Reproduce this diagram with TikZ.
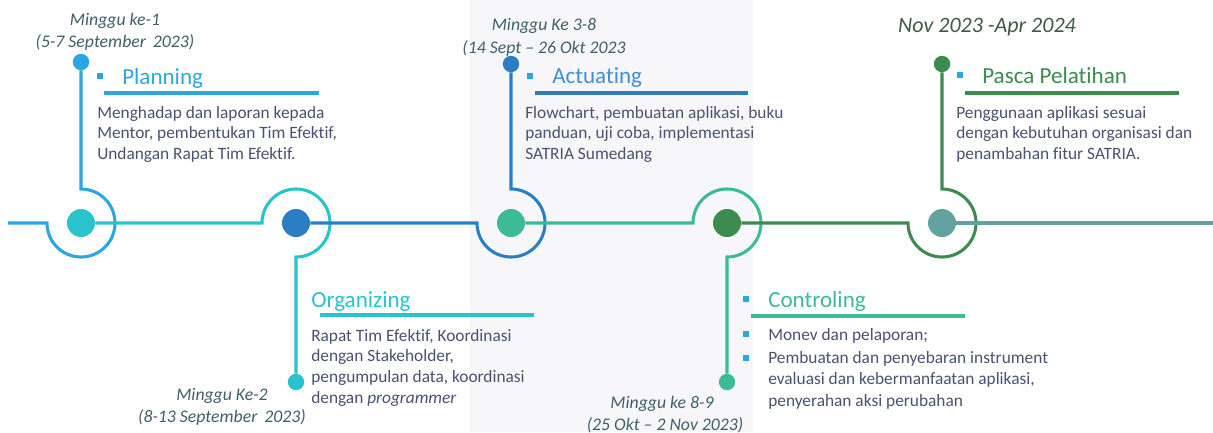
\documentclass[tikz,border=0pt]{standalone}
\usepackage{fontspec}
\setmainfont{Carlito}[Ligatures=NoCommon]
\definecolor{cA}{HTML}{2AA7E1}
\definecolor{cB}{HTML}{28C3CC}
\definecolor{cC}{HTML}{2B7EC3}
\definecolor{cD}{HTML}{3DBB94}
\definecolor{cE}{HTML}{3C8B4F}
\definecolor{cF}{HTML}{63A39F}
\definecolor{cBody}{HTML}{4A5172}
\definecolor{cDate}{HTML}{3F6068}
\definecolor{cNov}{HTML}{3D5B45}
\definecolor{cAct}{HTML}{3C8FD8}
\definecolor{cPanel}{HTML}{F7F7F9}
\begin{document}
\begin{tikzpicture}[x=0.75pt,y=0.75pt,
  tl/.style={line width=2.3pt},
  ul/.style={line width=2.6pt},
  hub/.style={circle,inner sep=0pt,minimum size=21pt},
  pin/.style={circle,inner sep=0pt,minimum size=12.3pt},
  bul/.style={rectangle,fill=cA,inner sep=0pt,minimum size=4.5pt},
  head/.style={anchor=base west,inner sep=0pt,font=\fontsize{17.3}{20}\selectfont},
  bodytxt/.style={anchor=base west,inner sep=0pt,text=cBody,font=\fontsize{13}{15.5}\selectfont},
  datetxt/.style={anchor=base,inner sep=0pt,text=cDate,font=\fontsize{13.3}{16}\selectfont\itshape}]
\useasboundingbox (0,0) rectangle (1213,-432);
\fill[white] (0,0) rectangle (1213,-432);
\fill[cPanel] (470,0) rectangle (753,-432);
% hubs
\node[hub,fill=cB] (n1) at (81,-223) {};
\node[hub,fill=cC] (n2) at (296,-223) {};
\node[hub,fill=cD] (n3) at (511,-223) {};
\node[hub,fill=cE] (n4) at (727,-223) {};
\node[hub,fill=cF] (n5) at (942,-223) {};
% pins
\node[pin,fill=cA] (d1) at (81,-62) {};
\node[pin,fill=cB] (d2) at (296,-382) {};
\node[pin,fill=cC] (d3) at (511,-64) {};
\node[pin,fill=cD] (d4) at (727,-382) {};
\node[pin,fill=cE] (d5) at (942,-64) {};
\coordinate (s0) at (8,-223);
\coordinate (r1) at (47,-223);
\coordinate (r2) at (262,-223);
\coordinate (r3) at (477,-223);
\coordinate (r4) at (693,-223);
\coordinate (r5) at (908,-223);
\coordinate (e0) at (1213,-223);
% timeline
\draw[tl,cA] (s0) -- (r1) arc[start angle=180,end angle=450,radius=25.5pt] -- (d1);
\draw[tl,cB] (n1) -- (r2) arc[start angle=180,end angle=-90,radius=25.5pt] -- (d2);
\draw[tl,cC] (n2) -- (r3) arc[start angle=180,end angle=450,radius=25.5pt] -- (d3);
\draw[tl,cD] (n3) -- (r4) arc[start angle=180,end angle=-90,radius=25.5pt] -- (d4);
\draw[tl,cE] (n4) -- (r5) arc[start angle=180,end angle=450,radius=25.5pt] -- (d5);
\draw[tl,cF] (n5) -- (e0);
% dates
\node[datetxt] (t1a) at (115,-25) {Minggu ke-1};
\node[datetxt] (t1b) at (115,-47) {(5-7 September\hspace{0.4em}2023)};
\node[datetxt] (t3a) at (544,-30) {Minggu Ke 3-8};
\node[datetxt] (t3b) at (544,-53) {(14 Sept – 26 Okt 2023};
\node[datetxt,text=cNov,font=\fontsize{16.5}{19}\selectfont\itshape] (t5) at (987,-32) {Nov 2023 -Apr 2024};
\node[datetxt] (t2a) at (222,-400) {Minggu Ke-2};
\node[datetxt] (t2b) at (222,-422) {(8-13 September\hspace{0.4em}2023)};
\node[datetxt] (t4a) at (662,-408) {Minggu ke 8-9};
\node[datetxt] (t4b) at (665,-430) {(25 Okt – 2 Nov 2023)};
% headings
\node[bul] (b1) at (100,-76) {};
\node[head,text=cA] (h1) at (122,-84) {Planning};
\draw[ul,cA] (104,-93) -- (319,-93);
\node[bul] (b3) at (530,-76) {};
\node[head,text=cAct] (h3) at (552,-83) {Actuating};
\draw[ul,cC] (535,-93) -- (748,-93);
\node[bul] (b5) at (960,-75) {};
\node[head,text=cE] (h5) at (982,-83) {Pasca Pelatihan};
\draw[ul,cE] (965,-93) -- (1179,-93);
\node[head,text=cB] (h2) at (311,-307) {Organizing};
\draw[ul,cB] (320,-315) -- (534,-315);
\node[bul] (b4) at (746,-299) {};
\node[head,text=cD] (h4) at (768,-307) {Controling};
\draw[ul,cD] (751,-316) -- (965,-316);
% bodies
\node[bodytxt] (p1) at (97,-118) {\begin{tabular}[t]{@{}l@{}}Menghadap dan laporan kepada\\Mentor, pembentukan Tim Efektif,\\Undangan Rapat Tim Efektif.\end{tabular}};
\node[bodytxt] (p3) at (525,-118) {\begin{tabular}[t]{@{}l@{}}Flowchart, pembuatan aplikasi, buku\\panduan, uji coba, implementasi\\SATRIA Sumedang\end{tabular}};
\node[bodytxt] (p5) at (956,-118) {\begin{tabular}[t]{@{}l@{}}Penggunaan aplikasi sesuai\\dengan kebutuhan organisasi dan\\penambahan fitur SATRIA.\end{tabular}};
\node[bodytxt] (p2) at (311,-341) {\begin{tabular}[t]{@{}l@{}}Rapat Tim Efektif, Koordinasi\\dengan Stakeholder,\\pengumpulan data, koordinasi\\dengan \textit{programmer}\end{tabular}};
\node[bul] (b4a) at (746,-334) {};
\node[bodytxt] (p4a) at (768,-340) {Monev dan pelaporan;};
\node[bul] (b4b) at (746,-358) {};
\node[bodytxt,font=\fontsize{13}{16.3}\selectfont] (p4b) at (768,-363) {\begin{tabular}[t]{@{}l@{}}Pembuatan dan penyebaran instrument\\evaluasi dan kebermanfaatan aplikasi,\\penyerahan aksi perubahan\end{tabular}};
\end{tikzpicture}
\end{document}
